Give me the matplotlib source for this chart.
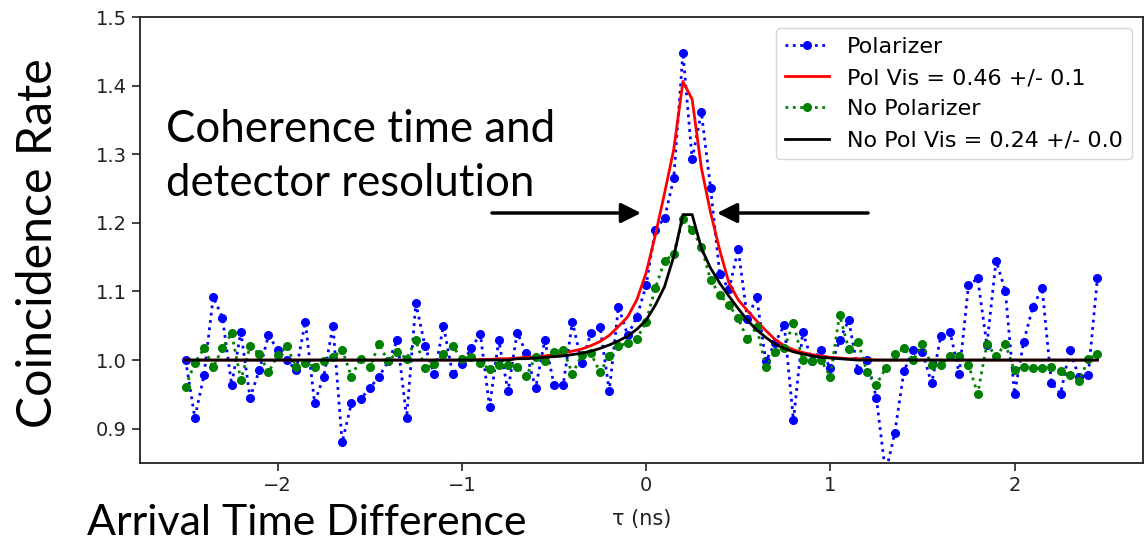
import numpy as np
import matplotlib
matplotlib.use("Agg")
import matplotlib.pyplot as plt
from matplotlib.patches import ArrowStyle

# ---------------- data ----------------
tau = np.round(np.arange(-2.5, 2.5 - 1e-9, 0.05), 2)   # 100 sample times (ns)

polarizer = [
    1.000, 0.916, 0.978, 1.092, 1.062, 0.964, 1.041, 0.945, 0.985, 1.036,
    1.015, 1.000, 0.985, 1.056, 0.938, 0.976, 1.050, 0.880, 0.937, 0.943,
    0.959, 0.976, 0.998, 1.029, 0.916, 1.083, 1.020, 0.979, 1.050, 0.979,
    0.994, 1.017, 1.038, 0.932, 1.029, 0.955, 1.040, 1.010, 0.959, 1.029,
    0.964, 0.964, 1.056, 0.996, 1.039, 1.048, 0.955, 1.078, 1.036, 1.063,
    1.109, 1.190, 1.207, 1.265, 1.448, 1.293, 1.361, 1.251, 1.125, 1.103,
    1.162, 1.060, 1.092, 0.998, 1.025, 1.051, 0.912, 1.041, 0.999, 1.015,
    0.988, 1.029, 1.058, 0.985, 1.000, 0.945, 0.835, 0.894, 0.984, 1.015,
    1.012, 0.966, 1.035, 1.041, 0.980, 1.109, 1.119, 1.022, 1.145, 1.101,
    0.951, 1.027, 1.078, 1.105, 0.967, 0.951, 1.015, 0.975, 0.978, 1.119]

no_polarizer = [
    0.961, 0.996, 1.017, 0.990, 1.017, 1.039, 0.971, 1.020, 1.009, 0.982,
    1.007, 1.020, 0.990, 0.996, 0.990, 0.999, 1.004, 1.015, 0.976, 1.002,
    0.990, 1.023, 0.998, 1.012, 1.002, 1.029, 0.988, 0.994, 1.009, 1.020,
    1.002, 1.004, 0.996, 0.987, 0.993, 0.993, 0.990, 0.977, 1.005, 0.999,
    1.012, 1.015, 0.980, 1.007, 1.010, 0.982, 1.006, 1.020, 1.025, 1.031,
    1.056, 1.105, 1.144, 1.155, 1.205, 1.190, 1.165, 1.117, 1.095, 1.080,
    1.061, 1.030, 1.048, 0.990, 1.012, 1.018, 1.054, 1.000, 0.999, 1.000,
    0.976, 1.066, 1.016, 1.027, 0.982, 0.964, 0.988, 1.009, 1.017, 1.000,
    1.023, 0.993, 0.993, 1.006, 1.006, 0.993, 0.951, 1.023, 1.006, 1.023,
    0.985, 0.990, 0.988, 0.988, 0.990, 0.984, 0.978, 0.969, 1.001, 1.009]

pol_fit = ([1.000] * 32 + [
    1.001, 1.001, 1.002, 1.002, 1.003, 1.004, 1.005, 1.006, 1.008, 1.010,
    1.013, 1.016, 1.021, 1.027, 1.036, 1.049, 1.063, 1.088, 1.127, 1.182,
    1.243, 1.307, 1.406, 1.380, 1.280, 1.215, 1.160, 1.112, 1.088, 1.072,
    1.057, 1.043, 1.030, 1.021, 1.015, 1.011, 1.008, 1.006, 1.004, 1.003,
    1.002, 1.002, 1.001] + [1.000] * 25)

nopol_fit = ([1.000] * 36 + [
    1.002, 1.002, 1.003, 1.004, 1.005, 1.006, 1.008, 1.010, 1.013, 1.017,
    1.022, 1.028, 1.035, 1.045, 1.058, 1.080, 1.107, 1.151, 1.212, 1.212,
    1.163, 1.134, 1.112, 1.093, 1.075, 1.058, 1.044, 1.033, 1.023, 1.017,
    1.012, 1.009, 1.006, 1.004, 1.003, 1.002, 1.001] + [1.000] * 27)

labels = ["Polarizer", "Pol Vis = 0.46 +/- 0.1",
          "No Polarizer", "No Pol Vis = 0.24 +/- 0.0"]
x_ticks = [-2, -1, 0, 1, 2]
y_ticks = [0.9, 1.0, 1.1, 1.2, 1.3, 1.4, 1.5]

# ---------------- figure ----------------
W, H = 1145, 540
fig = plt.figure(figsize=(W / 100, H / 100), dpi=100)
ax = fig.add_axes([140 / W, 1 - 463 / H, 1003 / W, 446 / H])

ax.plot(tau, polarizer, color="b", ls=":", lw=2, marker="o", ms=5.5, label=labels[0])
ax.plot(tau, pol_fit, color="r", ls="-", lw=2, label=labels[1])
ax.plot(tau, no_polarizer, color="g", ls=":", lw=2, marker="o", ms=5.5, label=labels[2])
ax.plot(tau, nopol_fit, color="k", ls="-", lw=2, label=labels[3])

ax.set_ylim(0.85, 1.5)
ax.set_yticks(y_ticks)
ax.set_xticks(x_ticks)
ax.tick_params(labelsize=14, length=6, width=1.2, colors="#222222")
for s in ax.spines.values():
    s.set_linewidth(1.3)
    s.set_color("#222222")
ax.set_xlabel("τ (ns)", fontsize=15, color="#222222", labelpad=10)

ax.legend(loc="upper right", fontsize=16)

# ---------------- annotations ----------------
def fit_len(t, target, vertical=False):
    r = fig.canvas.get_renderer()
    for _ in range(4):
        bb = t.get_window_extent(r)
        cur = bb.height if vertical else bb.width
        t.set_fontsize(t.get_fontsize() * target / cur)

fig.canvas.draw()
fam = ["Lato", "DejaVu Sans"]
t1 = fig.text(166 / W, 1 - 142 / H, "Coherence time and", family=fam,
              fontsize=30, ha="left", va="baseline")
t2 = fig.text(166 / W, 1 - 196 / H, "detector resolution", family=fam,
              fontsize=30, ha="left", va="baseline")
t3 = fig.text(38 / W, 1 - 243 / H, "Coincidence Rate", family=fam,
              fontsize=30, rotation=90, ha="center", va="center")
t4 = fig.text(87 / W, 1 - 535 / H, "Arrival Time Difference", family=fam,
              fontsize=30, ha="left", va="baseline")
fit_len(t1, 388)
fit_len(t2, 369)
fit_len(t3, 370, vertical=True)
fit_len(t4, 440)

style = ArrowStyle("-|>", head_length=1.2, head_width=0.6)
for tail, tip in [((492, 327), (641, 327)), ((868, 327), (717, 327))]:
    ax.annotate("", xy=tip, xytext=tail, xycoords="figure pixels",
                textcoords="figure pixels",
                arrowprops=dict(arrowstyle=style, color="k", lw=2.5,
                                shrinkA=0, shrinkB=0, mutation_scale=10))

fig.savefig("out.png", dpi=100)
